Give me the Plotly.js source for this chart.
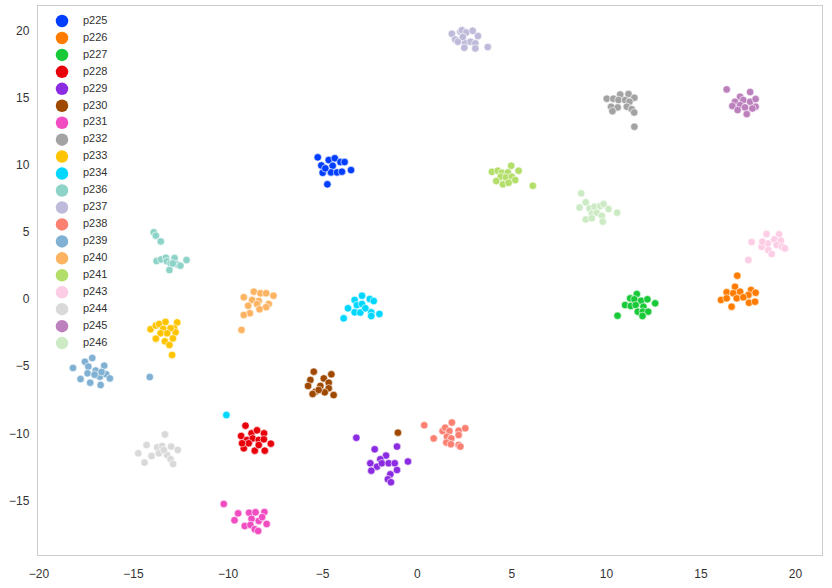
<!DOCTYPE html>
<html>
<head>
<meta charset="utf-8">
<script src="https://cdn.plot.ly/plotly-3.0.1.min.js"></script>
<style>html,body{margin:0;padding:0;background:#fff;}#chart{width:832px;height:588px;}</style>
</head>
<body>
<div id="chart"></div>
<script>
const speakers = ["p225","p226","p227","p228","p229","p230","p231","p232","p233","p234","p236","p237","p238","p239","p240","p241","p243","p244","p245","p246"];
const colors = ["#023eff","#ff7c00","#1ac938","#e8000b","#8b2be2","#9f4800","#f14cc1","#a3a3a3","#ffc400","#00d7ff","#8dd3c7","#bebada","#fb8072","#80b1d3","#fdb462","#b3de69","#fccde5","#d9d9d9","#bc80bd","#ccebc5"];

const x_p225 = [-5.26,-5.07,-4.68,-4.36,-4.06,-3.84,-4.47,-5.0,-4.56,-4.24,-3.98,-3.50,-4.75,-4.86];
const y_p225 = [10.55,9.95,10.35,10.48,10.20,10.20,9.92,9.40,9.43,9.43,9.48,9.60,8.54,9.73];
const x_p226 = [16.92,16.80,16.36,16.71,17.07,16.06,16.36,16.89,17.65,17.89,17.51,17.54,17.86,16.62,17.24];
const y_p226 = [1.74,0.91,0.50,0.43,0.55,-0.07,0.05,0.05,0.67,0.47,0.30,-0.28,-0.20,-0.57,0.13];
const x_p227 = [11.61,11.26,11.48,11.84,12.17,12.58,10.99,11.29,11.55,11.96,11.66,11.92,12.21,11.91,10.59];
const y_p227 = [0.37,0.05,-0.02,-0.13,-0.02,-0.32,-0.45,-0.52,-0.45,-0.57,-0.94,-0.94,-0.94,-1.26,-1.24];
const x_p228 = [-9.08,-8.76,-8.47,-8.10,-9.31,-9.0,-8.70,-8.38,-8.11,-7.74,-8.06,-8.59,-9.17,-8.91,-8.38,-9.26];
const y_p228 = [-9.43,-10.00,-9.78,-10.00,-10.20,-10.49,-10.38,-10.49,-10.45,-10.77,-11.29,-11.29,-11.12,-10.74,-10.87,-10.74];
const x_p229 = [-3.22,-2.25,-1.07,-1.65,-1.95,-2.48,-2.13,-2.43,-1.87,-1.51,-1.19,-0.49,-1.07,-1.42,-1.55,-1.39];
const y_p229 = [-10.33,-11.19,-10.99,-11.66,-11.93,-12.23,-12.48,-12.78,-12.23,-12.23,-12.23,-12.10,-12.73,-13.05,-13.42,-13.64];
const x_p230 = [-5.47,-4.54,-5.65,-4.94,-4.68,-5.77,-5.12,-4.68,-5.38,-4.89,-4.42,-5.53,-5.21,-1.02];
const y_p230 = [-5.41,-5.61,-6.03,-5.91,-6.23,-6.47,-6.47,-6.65,-6.90,-6.95,-7.15,-7.07,-6.77,-9.95];
const x_p231 = [-10.23,-9.47,-9.66,-9.12,-8.89,-8.55,-8.08,-8.76,-8.38,-7.96,-8.82,-8.59,-8.41,-8.20];
const y_p231 = [-15.26,-15.96,-16.47,-16.90,-15.91,-15.88,-15.86,-16.37,-16.52,-16.75,-16.82,-17.14,-17.27,-16.24];
const x_p232 = [10.02,10.37,10.73,11.17,11.48,10.64,10.99,11.22,10.25,10.60,11.08,11.34,10.32,11.47,11.48];
const y_p232 = [14.92,14.92,15.23,15.26,14.99,14.82,14.82,14.69,14.32,14.27,14.32,14.14,13.99,13.89,12.83];
const x_p233 = [-14.10,-13.82,-13.64,-13.31,-12.69,-12.85,-12.78,-13.04,-13.43,-13.57,-13.82,-13.34,-12.92,-13.10,-12.96,-13.22];
const y_p233 = [-2.25,-1.98,-1.86,-1.71,-1.74,-2.18,-2.48,-2.18,-2.23,-2.55,-2.95,-3.15,-2.93,-3.42,-4.17,-2.55];
const x_p234 = [-3.89,-3.66,-3.31,-2.92,-2.51,-2.30,-3.19,-2.92,-3.31,-3.01,-2.74,-2.43,-2.0,-2.43,-10.09];
const y_p234 = [-1.44,-0.69,-0.07,0.25,0.0,-0.15,-0.45,-0.37,-0.99,-1.01,-0.69,-0.99,-1.11,-1.26,-8.64];
const x_p236 = [-13.93,-13.82,-13.56,-13.78,-13.54,-13.29,-13.24,-13.04,-12.83,-12.69,-12.52,-12.20,-13.10,-12.92];
const y_p236 = [4.97,4.72,4.29,2.83,2.95,3.08,2.81,2.66,3.05,2.58,2.48,2.90,2.16,2.65];
const x_p237 = [1.83,2.01,2.28,2.36,2.59,2.93,3.21,2.15,2.54,2.82,3.07,2.49,3.07,3.73,2.41];
const y_p237 = [19.75,19.33,19.90,20.02,19.85,19.97,19.58,19.16,19.08,19.16,19.04,18.71,18.66,18.76,19.52];
const x_p238 = [0.37,0.87,1.34,1.48,1.70,1.83,2.19,2.54,1.57,1.80,2.19,1.54,1.78,2.19,2.28];
const y_p238 = [-9.40,-10.38,-9.83,-9.58,-9.83,-9.20,-9.80,-9.62,-10.25,-10.38,-10.13,-10.69,-10.81,-10.86,-10.99];
const x_p239 = [-18.20,-17.57,-17.18,-17.39,-17.0,-16.78,-16.55,-16.44,-16.25,-16.74,-17.29,-17.80,-17.43,-17.06,-16.69,-14.14];
const y_p239 = [-5.13,-4.67,-4.39,-5.03,-5.33,-5.78,-4.96,-5.61,-5.91,-6.40,-6.23,-5.96,-5.53,-5.63,-5.43,-5.81];
const x_p240 = [-9.17,-8.64,-8.29,-7.99,-7.60,-8.73,-8.38,-8.47,-7.85,-8.94,-7.99,-8.34,-8.85,-9.17,-9.29];
const y_p240 = [0.13,0.55,0.43,0.43,0.25,-0.07,-0.15,-0.37,-0.37,-0.50,-0.61,-0.76,-1.06,-1.19,-2.30];
const x_p241 = [3.95,4.26,4.47,4.79,4.97,5.36,4.42,4.69,5.0,5.18,4.18,4.53,4.83,6.11];
const y_p241 = [9.47,9.55,9.40,9.43,9.92,9.55,9.11,9.06,9.11,8.86,8.79,8.54,8.66,8.43];
const x_p243 = [17.68,17.51,18.47,19.13,18.21,18.53,18.88,19.23,18.25,18.56,18.74,19.0,19.30,19.44];
const y_p243 = [4.24,2.90,4.84,4.82,3.89,4.14,4.44,4.34,4.27,3.65,3.35,4.02,3.89,3.77];
const x_p244 = [-13.34,-14.31,-13.75,-13.49,-13.01,-12.66,-14.75,-14.05,-13.66,-13.22,-13.04,-12.91,-14.42,-13.40];
const y_p244 = [-10.08,-10.87,-11.04,-10.94,-10.99,-11.24,-11.49,-11.69,-11.49,-11.62,-11.93,-12.28,-12.18,-11.24];
const x_p245 = [16.36,17.07,17.60,16.80,17.24,17.60,17.89,16.66,17.07,17.33,17.89,16.94,17.42,17.72];
const y_p245 = [15.61,15.06,15.41,14.69,14.82,14.69,14.89,14.37,14.44,14.27,14.32,14.07,13.77,14.19];
const x_p246 = [8.67,8.91,8.58,9.11,9.37,9.67,9.85,10.11,9.23,9.49,9.76,8.91,9.23,9.81,10.57];
const y_p246 = [7.87,7.20,6.82,6.75,6.87,6.92,7.07,6.70,6.33,6.43,6.20,5.93,6.01,5.76,6.43];

const xs = [x_p225,x_p226,x_p227,x_p228,x_p229,x_p230,x_p231,x_p232,x_p233,x_p234,x_p236,x_p237,x_p238,x_p239,x_p240,x_p241,x_p243,x_p244,x_p245,x_p246];
const ys = [y_p225,y_p226,y_p227,y_p228,y_p229,y_p230,y_p231,y_p232,y_p233,y_p234,y_p236,y_p237,y_p238,y_p239,y_p240,y_p241,y_p243,y_p244,y_p245,y_p246];

const traces = [];
speakers.forEach((s, i) => {
  traces.push({
    type: 'scatter', mode: 'markers', x: xs[i], y: ys[i], name: s,
    marker: {color: colors[i], size: 7.5, line: {color: '#ffffff', width: 0.6}},
    showlegend: false, xaxis: 'x', yaxis: 'y'
  });
});

// Legend drawn on an overlay (category) axis: one row per speaker
traces.push({
  type: 'scatter', mode: 'markers', xaxis: 'x2', yaxis: 'y2',
  x: speakers.map(() => 0), y: speakers,
  marker: {color: colors, size: 12.5, line: {width: 0}},
  showlegend: false, hoverinfo: 'skip', cliponaxis: false
});
traces.push({
  type: 'scatter', mode: 'text', xaxis: 'x2', yaxis: 'y2',
  x: speakers.map(() => 1), y: speakers, text: speakers,
  textposition: 'middle right',
  textfont: {family: 'Liberation Sans, Arial, sans-serif', size: 11, color: '#333333'},
  showlegend: false, hoverinfo: 'skip', cliponaxis: false
});

const layout = {
  width: 832, height: 588,
  margin: {l: 38, r: 10, t: 6, b: 33, pad: 0},
  paper_bgcolor: '#ffffff', plot_bgcolor: '#ffffff',
  font: {family: 'Liberation Sans, Arial, sans-serif', size: 12, color: '#333333'},
  showlegend: false,
  xaxis: {
    range: [-20.05, 21.4], tickmode: 'array', tickvals: [-20,-15,-10,-5,0,5,10,15,20],
    showgrid: false, zeroline: false, showline: true, mirror: true,
    linecolor: '#cccccc', linewidth: 1.25,
    ticks: 'outside', ticklen: 7, tickcolor: 'rgba(0,0,0,0)',
    tickfont: {size: 12, color: '#333333'}
  },
  yaxis: {
    range: [-19.06, 21.82], tickmode: 'array', tickvals: [-15,-10,-5,0,5,10,15,20],
    showgrid: false, zeroline: false, showline: true, mirror: true,
    linecolor: '#cccccc', linewidth: 1.25,
    ticks: 'outside', ticklen: 5, tickcolor: 'rgba(0,0,0,0)',
    tickfont: {size: 12, color: '#333333'}
  },
  xaxis2: {overlaying: 'x', anchor: 'y2', range: [-1.143, 36.19], visible: false, fixedrange: true},
  yaxis2: {overlaying: 'y', anchor: 'x2', type: 'category', categoryorder: 'array', categoryarray: speakers,
           range: [31.5, -0.885], visible: false, fixedrange: true}
};

Plotly.newPlot('chart', traces, layout, {displayModeBar: false, staticPlot: true});
</script>
</body>
</html>
